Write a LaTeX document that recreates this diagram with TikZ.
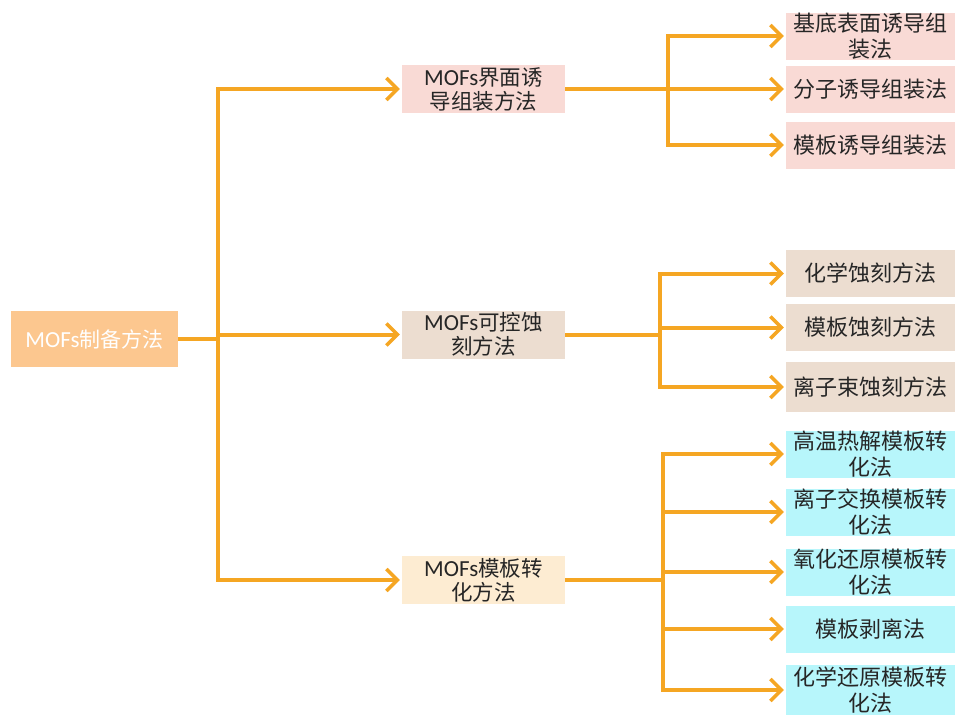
\documentclass[tikz,border=0pt]{standalone}
\usepackage{fontspec}
\setmainfont{Carlito}
\newfontfamily\cjk{Noto Sans CJK SC}
\usetikzlibrary{arrows.meta}

\definecolor{linec}{RGB}{245,166,35}
\definecolor{rootc}{RGB}{252,199,143}
\definecolor{pinkc}{RGB}{249,218,213}
\definecolor{beigec}{RGB}{236,221,208}
\definecolor{creamc}{RGB}{253,236,210}
\definecolor{cyanc}{RGB}{183,246,251}

\tikzset{
  box/.style={inner sep=0pt,align=center,text=black!85,
    font=\fontsize{21.5}{24}\selectfont\cjk},
  midbox/.style={box,minimum width=163pt,minimum height=48pt},
  leafbox/.style={box,minimum width=169pt,minimum height=47pt,
    font=\fontsize{22}{26}\selectfont\cjk},
  conn/.style={linec,line width=4pt},
  arr/.style={conn,-{Straight Barb[length=11pt,width=22pt,line width=3.5pt]},shorten >=2pt},
}

\newcommand{\mofs}{{\fontspec{Carlito}\fontsize{23}{24}\selectfont MOFs}}

\begin{document}
\begin{tikzpicture}[x=1pt,y=-1pt]
  \useasboundingbox (0,0) rectangle (955,715);

  \node[box,fill=rootc,text=white,minimum width=167pt,minimum height=56pt,
        font=\fontsize{21}{23}\selectfont\cjk] (root) at (94.5,339) {\mofs 制备方法};

  \node[midbox,fill=pinkc] (m1) at (483.5,89) {\mofs 界面诱\\导组装方法};
  \node[midbox,fill=beigec] (m2) at (483.5,334.5) {\mofs 可控蚀\\刻方法};
  \node[midbox,fill=creamc] (m3) at (483.5,580) {\mofs 模板转\\化方法};

  % interface induced assembly
  \node[leafbox,fill=pinkc] (a1) at (870.5,36) {基底表面诱导组\\装法};
  \node[leafbox,fill=pinkc] (a2) at (870.5,89) {分子诱导组装法};
  \node[leafbox,fill=pinkc] (a3) at (870.5,145) {模板诱导组装法};

  % controlled etching
  \node[leafbox,fill=beigec] (b1) at (870.5,273.5) {化学蚀刻方法};
  \node[leafbox,fill=beigec] (b2) at (870.5,327.5) {模板蚀刻方法};
  \node[leafbox,fill=beigec,minimum height=50pt] (b3) at (870.5,387) {离子束蚀刻方法};

  % template conversion
  \node[leafbox,fill=cyanc] (c1) at (870.5,454) {高温热解模板转\\化法};
  \node[leafbox,fill=cyanc] (c2) at (870.5,512) {离子交换模板转\\化法};
  \node[leafbox,fill=cyanc] (c3) at (870.5,572) {氧化还原模板转\\化法};
  \node[leafbox,fill=cyanc] (c4) at (870.5,629) {模板剥离法};
  \node[leafbox,fill=cyanc,minimum height=50pt] (c5) at (870.5,690) {化学还原模板转\\化法};

  \coordinate (t) at (218,339);
  \coordinate (ta) at (668,89);
  \coordinate (tb) at (660,334.5);
  \coordinate (tc) at (663,580);

  \draw[conn] (root.east) -- (t);
  \draw[conn] (218,89) -- (218,580);
  \foreach \m in {m1,m2,m3}
    \draw[arr] (t) |- (\m.west);

  \draw[conn] (m1.east) -- (ta);
  \draw[conn] (668,36) -- (668,145);
  \foreach \l in {a1,a2,a3}
    \draw[arr] (ta) |- (\l.west);

  \draw[conn] (m2.east) -- (tb);
  \draw[conn] (660,273.5) -- (660,387);
  \foreach \l in {b1,b2,b3}
    \draw[arr] (tb) |- (\l.west);

  \draw[conn] (m3.east) -- (tc);
  \draw[conn] (663,454) -- (663,690);
  \foreach \l in {c1,c2,c3,c4,c5}
    \draw[arr] (tc) |- (\l.west);
\end{tikzpicture}
\end{document}
